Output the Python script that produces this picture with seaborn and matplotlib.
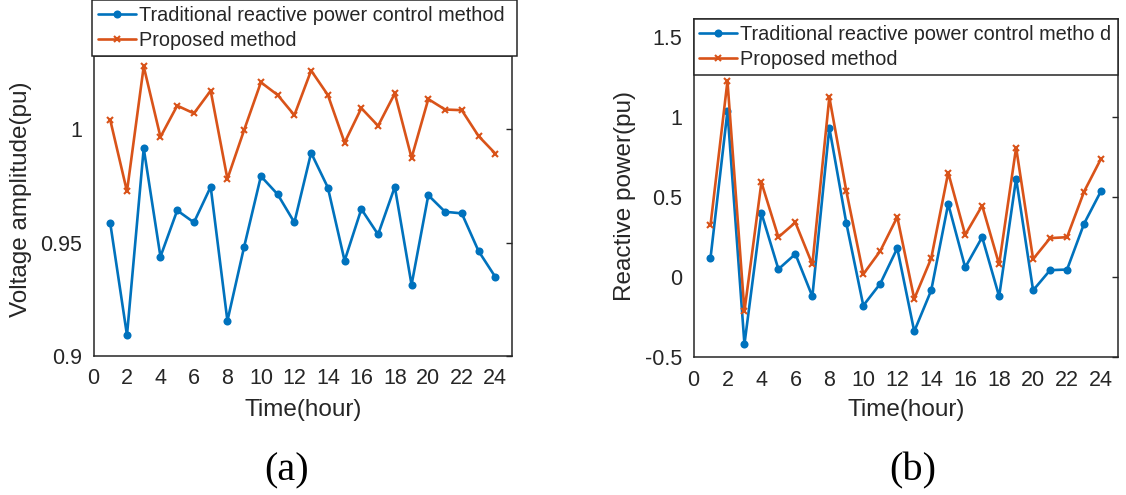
import numpy as np
import pandas as pd
import matplotlib
matplotlib.use("Agg")
import matplotlib.pyplot as plt
import seaborn as sns

# ---- data -------------------------------------------------------------
hours = list(range(1, 25))

voltage_traditional = [0.9586, 0.9092, 0.9916, 0.9438, 0.9642, 0.9589, 0.9746, 0.9155,
                       0.9482, 0.9793, 0.9713, 0.9589, 0.9896, 0.9743, 0.9420, 0.9648,
                       0.9536, 0.9746, 0.9314, 0.9709, 0.9636, 0.9629, 0.9463, 0.9349]
voltage_proposed = [1.0041, 0.9726, 1.0277, 0.9966, 1.0104, 1.0070, 1.0170, 0.9781,
                    0.9997, 1.0207, 1.0151, 1.0062, 1.0259, 1.0151, 0.9941, 1.0093,
                    1.0015, 1.0158, 0.9874, 1.0133, 1.0087, 1.0084, 0.9970, 0.9893]

reactive_traditional = [0.116, 1.035, -0.420, 0.399, 0.048, 0.143, -0.122, 0.931,
                        0.336, -0.179, -0.042, 0.179, -0.340, -0.084, 0.456, 0.059,
                        0.248, -0.122, 0.614, -0.084, 0.042, 0.046, 0.332, 0.536]
reactive_proposed = [0.321, 1.222, -0.214, 0.590, 0.248, 0.340, 0.078, 1.122,
                     0.536, 0.017, 0.162, 0.374, -0.137, 0.116, 0.651, 0.263,
                     0.445, 0.078, 0.807, 0.111, 0.242, 0.248, 0.532, 0.738]

label_traditional_a = "Traditional reactive power control method"
label_traditional_b = "Traditional reactive power control metho d"
label_proposed = "Proposed method"

x_ticks = list(range(0, 25, 2))
x_tick_labels = [str(t) for t in x_ticks]
volt_ticks = [0.9, 0.95, 1.0]
volt_tick_labels = ["0.9", "0.95", "1"]
react_ticks = [-0.5, 0.0, 0.5, 1.0, 1.5]
react_tick_labels = ["-0.5", "0", "0.5", "1", "1.5"]

# ---- style ------------------------------------------------------------
sns.set_style("white")
plt.rcParams["font.family"] = ["Liberation Sans", "DejaVu Sans"]

BLUE = "#0072BD"
ORANGE = "#D95319"
DARK = "#262626"

W, H = 1126, 495
fig = plt.figure(figsize=(W / 100, H / 100), dpi=100)


def px_axes(left, top, right, bottom):
    return fig.add_axes([left / W, (H - bottom) / H, (right - left) / W, (bottom - top) / H])


ax_a = px_axes(93.5, 56, 512, 356)
ax_b = px_axes(693.5, 19, 1118, 357)


def draw_series(ax, trad, prop, trad_label):
    sns.lineplot(x=hours, y=trad, ax=ax, color=BLUE, linewidth=1.9,
                 marker="o", markersize=5.8, markeredgewidth=0,
                 markeredgecolor=BLUE, markerfacecolor=BLUE, label=trad_label)
    sns.lineplot(x=hours, y=prop, ax=ax, color=ORANGE, linewidth=1.9,
                 marker="x", markersize=4.8, markeredgewidth=1.5,
                 markeredgecolor=ORANGE, label=label_proposed)


def style_axes(ax, yticks, ylabels):
    ax.set_xlim(0, 25)
    ax.set_xticks(x_ticks)
    ax.set_xticklabels(x_tick_labels)
    ax.set_yticks(yticks)
    ax.set_yticklabels(ylabels)
    for side in ax.spines.values():
        side.set_visible(True)
        side.set_color(DARK)
        side.set_linewidth(1.1)
    ax.tick_params(axis="both", direction="in", length=4, width=1, colors=DARK,
                   labelsize=15.5, labelcolor=DARK)
    ax.tick_params(axis="y", right=True, pad=8)
    ax.tick_params(axis="x", pad=9)


draw_series(ax_a, voltage_traditional, voltage_proposed, label_traditional_a)
draw_series(ax_b, reactive_traditional, reactive_proposed, label_traditional_b)

style_axes(ax_a, volt_ticks, volt_tick_labels)
ax_a.set_ylim(0.9, 1.0323)
style_axes(ax_b, react_ticks, react_tick_labels)
ax_b.set_ylim(-0.5, 1.61)

for ax, ylab, ylab_x, ylab_y, xlab_y in [
    (ax_a, "Voltage amplitude(pu)", -0.147, 0.523, -0.143),
    (ax_b, "Reactive power(pu)", -0.1355, 0.476, -0.124),
]:
    ax.set_xlabel("Time(hour)", fontsize=17.5, color=DARK)
    ax.set_ylabel(ylab, fontsize=17.5, color=DARK)
    ax.yaxis.set_label_coords(ylab_x, ylab_y)
    ax.xaxis.set_label_coords(0.5, xlab_y)

legend_kw = dict(fontsize=14.3, frameon=True, fancybox=False, framealpha=1,
                 edgecolor=DARK, handlelength=1.9, handletextpad=0.15,
                 labelspacing=0.3, borderpad=0.3, borderaxespad=0, mode="expand")

leg_a = ax_a.legend(loc="lower left", bbox_to_anchor=(-0.003, 1.0, 1.015, 0), **legend_kw)
leg_b = ax_b.legend(loc="upper left", bbox_to_anchor=(0, 1.0, 1.0, 0), **legend_kw)
for leg in (leg_a, leg_b):
    leg.get_frame().set_linewidth(1.1)
    leg.set_clip_on(False)

# panel captions
fig.text(287 / W, (H - 471) / H, "(a)", ha="center", va="center",
         fontsize=29, family=["Liberation Serif", "DejaVu Serif"], color="black")
fig.text(913 / W, (H - 471) / H, "(b)", ha="center", va="center",
         fontsize=29, family=["Liberation Serif", "DejaVu Serif"], color="black")

fig.savefig("out.png", dpi=100)
